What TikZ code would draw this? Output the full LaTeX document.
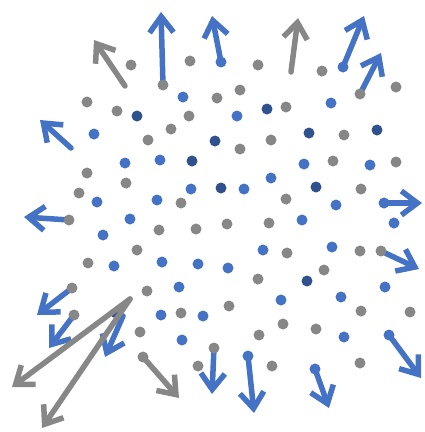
\documentclass[tikz,border=0pt]{standalone}
\usetikzlibrary{arrows.meta,backgrounds}
\definecolor{dotblue}{HTML}{4472C4}
\definecolor{dotdark}{HTML}{2F528F}
\definecolor{dotgray}{HTML}{878787}

\begin{document}
\begin{tikzpicture}[x=1pt,y=-1pt,>={Straight Barb[length=16pt,width=24pt]},
  dot/.style={circle,inner sep=0pt,minimum size=11pt},
  gdot/.style={dot,fill=dotgray},
  bdot/.style={dot,fill=dotblue},
  ddot/.style={dot,fill=dotdark},
  arr/.style={->,line width=5.5pt,line cap=round,line join=round},
  barr/.style={arr,draw=dotblue},
  garr/.style={arr,draw=dotgray}]
\useasboundingbox (0,0) rectangle (424,432);

% loose dots
\foreach \x/\y [count=\i] in {131/65,190/61,258/65,322/71,396/87,87/102,117/111,189/116,
  217/98,240/90,286/107,171/129,148/140,240/149,271/140,344/135,333/161,396/162,87/173,
  126/183,361/189,79/193,181/203,286/199,159/230,196/229,227/224,269/223,137/250,287/253,
  360/251,88/263,258/279,324/270,147/291,181/313,229/306,361/311,410/312,140/332,259/335,
  283/324,316/329,198/366,272/366,360/363}
  \node[gdot] (g\i) at (\x,\y) {};
\foreach \x/\y [count=\i] in {183/97,237/116,331/103,94/134,125/163,160/160,304/164,370/165,
  191/189,244/189,271/178,97/202,157/200,336/205,130/219,302/220,394/223,103/235,263/250,
  332/247,114/266,162/262,198/264,228/268,179/287,281/300,341/297,385/287,161/315,203/316,
  182/340,344/337}
  \node[bdot] (b\i) at (\x,\y) {};
\foreach \x/\y [count=\i] in {137/116,267/109,215/141,309/133,377/130,192/161,221/188,
  316/187,307/281,116/313}
  \node[ddot] (d\i) at (\x,\y) {};

% dots that arrows start from
\node[gdot] (s1) at (163,85) {};
\node[bdot] (s2) at (221,62) {};
\node[bdot] (s3) at (343,67) {};
\node[gdot] (s4) at (360,94) {};
\node[bdot] (s5) at (384,203) {};
\node[gdot] (s6) at (69,220) {};
\node[gdot] (s7) at (381,251) {};
\node[gdot] (s8) at (72,288) {};
\node[gdot] (s9) at (74,315) {};
\node[bdot] (s10) at (389,335) {};
\node[gdot] (s11) at (214,348) {};
\node[bdot] (s12) at (248,356) {};
\node[bdot] (s13) at (315,369) {};
\node[gdot] (s14) at (143,357) {};

% free ends
\coordinate (u1) at (71,148);
\coordinate (u2) at (123,316);
\coordinate (u3) at (125,86);
\coordinate (u4) at (291,72);
\coordinate (u5) at (130,299);
\coordinate (t1) at (161,12);
\coordinate (t2) at (212,16);
\coordinate (t3) at (364,16);
\coordinate (t4) at (381,53);
\coordinate (t5) at (40,120);
\coordinate (t6) at (24,217);
\coordinate (t7) at (422,203);
\coordinate (t8) at (419,269);
\coordinate (t9) at (37,315);
\coordinate (t10) at (49,348);
\coordinate (t11) at (105,357);
\coordinate (t12) at (212,394);
\coordinate (t13) at (254,413);
\coordinate (t14) at (329,408);
\coordinate (t15) at (421,378);
\coordinate (t16) at (94,40);
\coordinate (t17) at (298,18);
\coordinate (t18) at (12,387);
\coordinate (t19) at (42,428);
\coordinate (t20) at (179,398);

\begin{scope}[on background layer]
\path
(s1.center) edge [barr] (t1)
(s2.center) edge [barr] (t2)
(s3.center) edge [barr] (t3)
(s4.center) edge [barr] (t4)
(u1) edge [barr] (t5)
(s6.center) edge [barr] (t6)
(s5.center) edge [barr] (t7)
(s7.center) edge [barr] (t8)
(s8.center) edge [barr] (t9)
(s9.center) edge [barr] (t10)
(u2) edge [barr] (t11)
(s11.center) edge [barr] (t12)
(s12.center) edge [barr] (t13)
(s13.center) edge [barr] (t14)
(s10.center) edge [barr] (t15);
\end{scope}

\path
(u3) edge [garr] (t16)
(u4) edge [garr] (t17)
(u5) edge [garr] (t18)
(u5) edge [garr] (t19)
(s14.center) edge [garr] (t20);
\end{tikzpicture}
\end{document}
